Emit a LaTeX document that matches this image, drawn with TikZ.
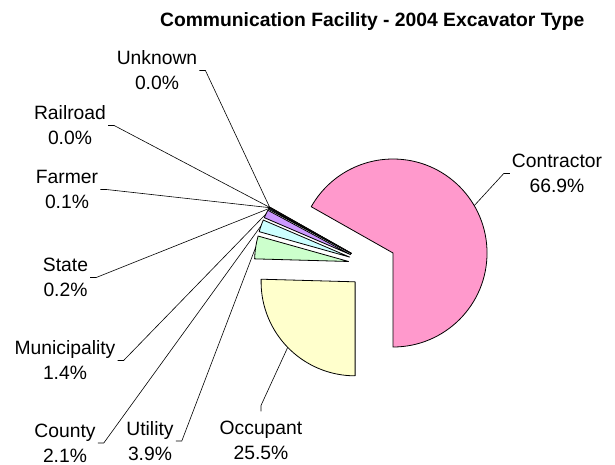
\documentclass[tikz,border=0pt]{standalone}
\usepackage{fontspec}
\setmainfont{Liberation Sans}
\usetikzlibrary{positioning}
\definecolor{conpink}{HTML}{FF99CC}
\definecolor{occyellow}{HTML}{FFFFCC}
\definecolor{utigreen}{HTML}{CCFFCC}
\definecolor{coucyan}{HTML}{CCFFFF}
\definecolor{munpurple}{HTML}{CC99FF}
\definecolor{stablue}{HTML}{99CCFF}
\definecolor{farred}{HTML}{FF8080}
\definecolor{raigray}{HTML}{C0C0C0}
\definecolor{unkgold}{HTML}{FFCC00}
\tikzstyle{lbl} = [font=\fontsize{19.3}{25}\selectfont, align=center, inner xsep=2pt, inner ysep=3pt]
\tikzstyle{leader} = [line width=0.6pt]
\tikzstyle{slice} = [draw=black, line width=0.8pt, line join=round]

\begin{document}
\begin{tikzpicture}[x=1pt,y=1pt]
\useasboundingbox (0,0) rectangle (615,465);
\node[anchor=base east, font=\fontsize{19.3}{22}\selectfont\bfseries] (title) at (588,438) {Communication Facility - 2004 Excavator Type};
\begin{scope}[shift={(372.3,199.9)}]
  \foreach \n/\a/\b/\col in {con/-90/150.5/conpink, unk/150.5/150.6/unkgold, rai/150.6/150.7/raigray, far/150.7/151.0/farred, sta/151.0/151.8/stablue, mun/151.8/156.8/munpurple, cou/156.8/164.3/coucyan, uti/164.3/178.4/utigreen, occ/178.4/270/occyellow}
  {
    \pgfmathsetmacro{\m}{(\a+\b)/2}
    \filldraw[slice, fill=\col, shift={(\m:24)}] (0,0) -- (\a:94) arc[start angle=\a, end angle=\b, radius=94] -- cycle;
    \coordinate (t\n) at (\m:118);
  }
\end{scope}
\node[lbl] (lunk) at (157,394.5) {Unknown\\0.0\%};
\node[lbl] (lrai) at (70,339.5) {Railroad\\0.0\%};
\node[lbl] (lfar) at (67,275.5) {Farmer\\0.1\%};
\node[lbl] (lsta) at (65.5,187.5) {State\\0.2\%};
\node[lbl] (lmun) at (65,104.5) {Municipality\\1.4\%};
\node[lbl] (lcou) at (65,22) {County\\2.1\%};
\node[lbl] (luti) at (150,24) {Utility\\3.9\%};
\node[lbl] (locc) at (261,25) {Occupant\\25.5\%};
\node[lbl] (lcon) at (557,291.5) {Contractor\\66.9\%};
\draw[leader] (lunk.east) -- ++(6,0) -- (tunk);
\draw[leader] (lrai.east) -- ++(6,0) -- (trai);
\draw[leader] (lfar.east) -- ++(6,0) -- (tfar);
\draw[leader] (lsta.east) -- ++(6,0) -- (tsta);
\draw[leader] (lmun.east) -- ++(6,0) -- (tmun);
\draw[leader] (lcou.east) -- ++(6,0) -- (tcou);
\draw[leader] (luti.east) -- ++(6,0) -- (tuti);
\draw[leader] (locc.north) ++(0,6) -- ++(0,6) -- (tocc);
\draw[leader] (lcon.west) -- ++(-6,0) -- (tcon);
\end{tikzpicture}
\end{document}
